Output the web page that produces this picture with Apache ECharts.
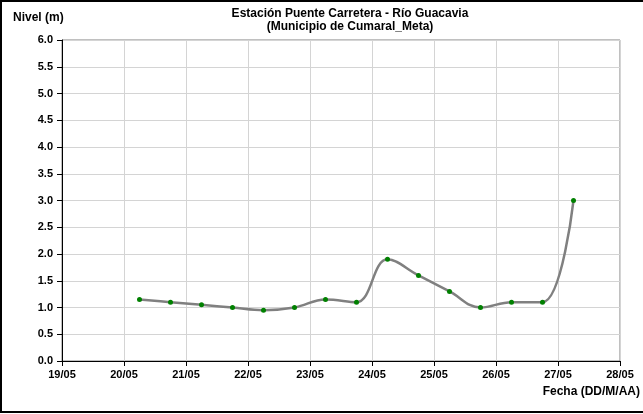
<!DOCTYPE html>
<html>
<head>
<meta charset="utf-8">
<script src="https://cdn.jsdelivr.net/npm/echarts@6/dist/echarts.min.js"></script>
<style>
  html, body { margin: 0; padding: 0; background: #fff; }
  #chart { width: 643px; height: 414px; }
</style>
</head>
<body>
<div id="chart"></div>
<script>
// fechas en dias de mayo (6:00 y 18:00)
const dias = [20.25, 20.75, 21.25, 21.75, 22.25, 22.75, 23.25, 23.75, 24.25, 24.75, 25.25, 25.75, 26.25, 26.75, 27.25];
const niveles = [1.15, 1.1, 1.05, 1.0, 0.95, 1.0, 1.15, 1.1, 1.9, 1.6, 1.3, 1.0, 1.1, 1.1, 3.0];
const etiquetasFecha = ['19/05', '20/05', '21/05', '22/05', '23/05', '24/05', '25/05', '26/05', '27/05', '28/05'];

const FONT = 'Liberation Sans, Arial, sans-serif';
const chart = echarts.init(document.getElementById('chart'));

const option = {
  backgroundColor: '#fff',
  animation: false,
  title: {
    text: 'Estación Puente Carretera - Río Guacavia\n(Municipio de Cumaral_Meta)',
    left: 345,
    top: 2,
    textAlign: 'center',
    textStyle: { fontFamily: FONT, fontSize: 12, fontWeight: 'bold', color: '#000', lineHeight: 13 }
  },
  graphic: [
    // marco exterior
    { type: 'rect', shape: { x: 1, y: 1, width: 660, height: 411 }, style: { fill: 'none', stroke: '#000', lineWidth: 2 }, silent: true },
    { type: 'text', left: 13, top: 12, style: { text: 'Nivel (m)', fontFamily: FONT, fontSize: 12, fontWeight: 'bold', fill: '#000' } },
    { type: 'text', right: 3, top: 386, style: { text: 'Fecha (DD/M/AA)', fontFamily: FONT, fontSize: 12, fontWeight: 'bold', fill: '#000' } }
  ],
  grid: { left: 62, right: 23, top: 40, bottom: 53, show: true, borderColor: '#808080', borderWidth: 1, backgroundColor: 'transparent' },
  xAxis: {
    type: 'value',
    min: 19,
    max: 28,
    interval: 1,
    axisLine: { show: true, onZero: false, lineStyle: { color: '#000', width: 1 } },
    axisTick: { show: true, length: 5, lineStyle: { color: '#000' } },
    axisLabel: {
      fontFamily: FONT, fontSize: 11, fontWeight: 'bold', color: '#000', margin: 8,
      formatter: v => etiquetasFecha[Math.round(v - 19)]
    },
    splitLine: { show: true, lineStyle: { color: '#d4d4d4', width: 1 } }
  },
  yAxis: {
    type: 'value',
    min: 0,
    max: 6,
    interval: 0.5,
    axisLine: { show: true, lineStyle: { color: '#000', width: 1 } },
    axisTick: { show: true, length: 5, lineStyle: { color: '#000' } },
    axisLabel: {
      fontFamily: FONT, fontSize: 11, fontWeight: 'bold', color: '#000', margin: 9,
      formatter: v => v.toFixed(1)
    },
    splitLine: { show: true, lineStyle: { color: '#d4d4d4', width: 1 } }
  },
  series: [{
    type: 'line',
    data: dias.map((d, i) => [d, niveles[i]]),
    smooth: 0.4,
    symbol: 'circle',
    symbolSize: 5,
    lineStyle: { color: '#808080', width: 2.5 },
    itemStyle: { color: '#008000', borderWidth: 0 },
    z: 3
  }]
};

chart.setOption(option);
</script>
</body>
</html>
